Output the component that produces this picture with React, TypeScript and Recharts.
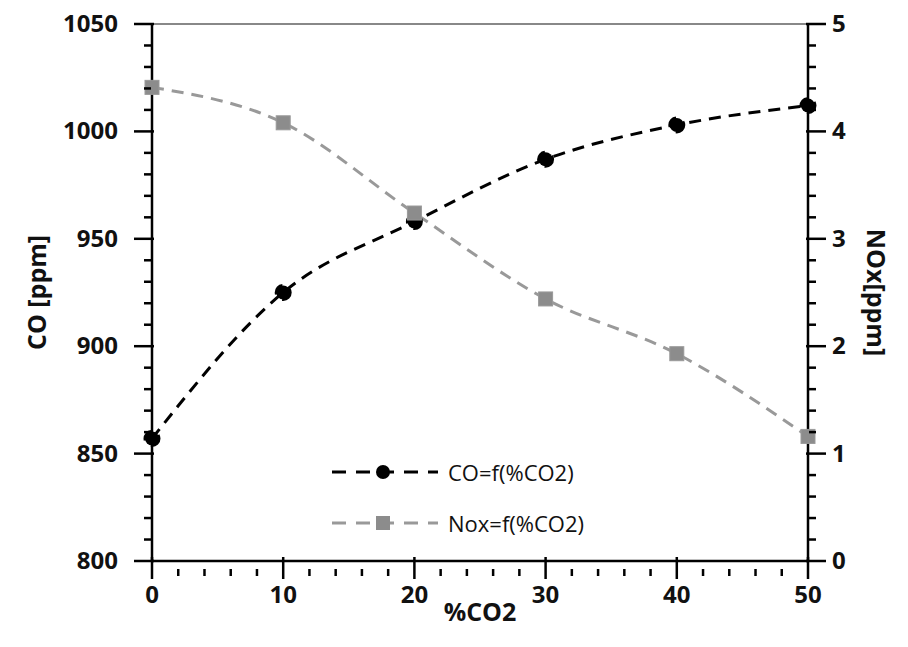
import { Line, LineChart, XAxis, YAxis, ReferenceLine } from 'recharts';

const co2 = [0, 10, 20, 30, 40, 50];
const coValues = [857, 925, 958, 987, 1003, 1012];
const noxValues = [4.41, 4.08, 3.24, 2.44, 1.93, 1.16];

const data = co2.map((c, i) => ({ co2: c, co: coValues[i], nox: noxValues[i] }));

const xTicks = Array.from({ length: 26 }, (_, i) => i * 2);
const leftTicks = Array.from({ length: 26 }, (_, i) => 800 + i * 10);
const rightTicks = Array.from({ length: 26 }, (_, i) => Math.round(i * 2) / 10);

const font = { fontFamily: 'Open Sans', fontWeight: 700, fontSize: 24, fill: '#111' };

const XTick = (p: any) => {
  const major = p.payload.value % 10 === 0;
  return (
    <g>
      <line x1={p.x} x2={p.x} y1={p.y - (major ? 12 : 0)} y2={p.y + (major ? 10 : 7)} stroke="#000" strokeWidth={2.5} />
      {major && <text x={p.x} y={p.y + 34} textAnchor="middle" {...font}>{p.payload.value}</text>}
    </g>
  );
};

const LeftTick = (p: any) => {
  const major = p.payload.value % 50 === 0;
  return (
    <g>
      <line x1={p.x - (major ? 10 : 0)} x2={p.x + (major ? 10 : 7)} y1={p.y} y2={p.y} stroke="#000" strokeWidth={2.5} />
      {major && <text x={p.x - 26} y={p.y + 8} textAnchor="end" {...font}>{p.payload.value}</text>}
    </g>
  );
};

const RightTick = (p: any) => {
  const v = Math.round(p.payload.value * 10);
  const major = v % 10 === 0;
  return (
    <g>
      <line x1={p.x - (major ? 10 : 7)} x2={p.x + (major ? 10 : 0)} y1={p.y} y2={p.y} stroke="#000" strokeWidth={2.5} />
      {major && <text x={p.x + 16} y={p.y + 8} textAnchor="start" {...font}>{v / 10}</text>}
    </g>
  );
};

const Square = (p: any) => (
  <rect x={p.cx - 7} y={p.cy - 7} width={14} height={14} fill="#8c8c8c" stroke="#999" />
);

const LegendBox = () => (
  <div style={{ position: 'absolute', left: 322, top: 438, fontFamily: 'Open Sans', fontSize: 22, color: '#111' }}>
    {[
      { c: '#000', label: 'CO=f(%CO2)', sq: false },
      { c: '#999', label: 'Nox=f(%CO2)', sq: true },
    ].map((r) => (
      <div key={r.label} style={{ display: 'flex', alignItems: 'center', height: 51 }}>
        <svg width={110} height={20}>
          <line x1={2} x2={108} y1={10} y2={10} stroke={r.c} strokeWidth={3} strokeDasharray="14 10" />
          {r.sq ? <rect x={46} y={3} width={14} height={14} fill="#8c8c8c" /> : <circle cx={53} cy={10} r={7} fill="#000" />}
        </svg>
        <span style={{ marginLeft: 8 }}>{r.label}</span>
      </div>
    ))}
  </div>
);

export default function App() {
  return (
    <div style={{ width: 892, height: 630, position: 'relative' }}>
      <LineChart width={892} height={630} data={data} style={{ overflow: 'visible' }} margin={{ top: 16, right: 32, left: 84, bottom: 27 }}>
        <XAxis
          dataKey="co2"
          type="number"
          domain={[0, 50]}
          ticks={xTicks}
          interval={0}
          axisLine={{ stroke: '#000', strokeWidth: 2.5 }}
          tickLine={false}
          tick={<XTick />}
          height={50}
          label={{ value: '%CO2', position: 'insideBottom', offset: -10, ...font, fontSize: 25 }}
        />
        <YAxis
          yAxisId="left"
          domain={[800, 1050]}
          ticks={leftTicks}
          interval={0}
          axisLine={{ stroke: '#000', strokeWidth: 2.5 }}
          tickLine={false}
          tick={<LeftTick />}
          width={60}
          label={{ value: 'CO [ppm]', angle: -90, position: 'insideLeft', offset: -55, style: { textAnchor: 'middle' }, ...font, fontSize: 25 }}
        />
        <YAxis
          yAxisId="right"
          orientation="right"
          domain={[0, 5]}
          ticks={rightTicks}
          interval={0}
          axisLine={{ stroke: '#000', strokeWidth: 2.5 }}
          tickLine={false}
          tick={<RightTick />}
          width={60}
          label={{ value: 'NOx[ppm]', angle: 90, position: 'insideRight', offset: -8, style: { textAnchor: 'middle' }, ...font, fontSize: 25 }}
        />
        <ReferenceLine yAxisId="left" y={1050} stroke="#888" strokeWidth={2} />
        <Line
          yAxisId="left"
          type="monotone"
          dataKey="co"
          stroke="#000"
          strokeWidth={3}
          strokeDasharray="12 8"
          dot={{ r: 7, fill: '#000', stroke: '#000' }}
          isAnimationActive={false}
        />
        <Line
          yAxisId="right"
          type="monotone"
          dataKey="nox"
          stroke="#999"
          strokeWidth={3}
          strokeDasharray="12 8"
          dot={<Square />}
          isAnimationActive={false}
        />
      </LineChart>
      <LegendBox />
    </div>
  );
}
